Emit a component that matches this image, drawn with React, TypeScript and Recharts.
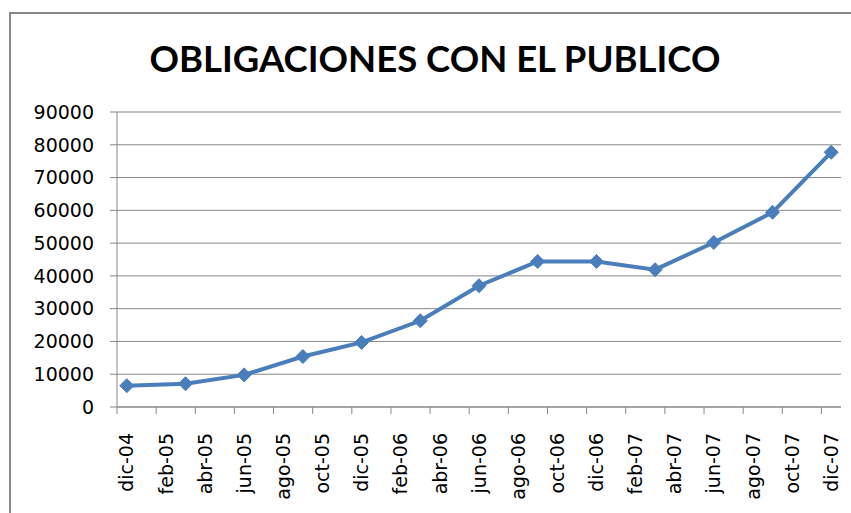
import * as React from "react";
import { LineChart, Line, XAxis, YAxis, CartesianGrid } from "recharts";

// quarterly observations, month offset from dic-04
const periodMonths = [0, 3, 6, 9, 12, 15, 18, 21, 24, 27, 30, 33, 36];
const periodNames = [
  "dic-04", "mar-05", "jun-05", "sep-05", "dic-05", "mar-06", "jun-06",
  "sep-06", "dic-06", "mar-07", "jun-07", "sep-07", "dic-07",
];
const obligaciones = [
  6500, 7100, 9800, 15400, 19700, 26300, 37000, 44400, 44400, 41900, 50200,
  59400, 77700,
];

// axis labels every two months
const tickLabels = [
  "dic-04", "feb-05", "abr-05", "jun-05", "ago-05", "oct-05", "dic-05",
  "feb-06", "abr-06", "jun-06", "ago-06", "oct-06", "dic-06", "feb-07",
  "abr-07", "jun-07", "ago-07", "oct-07", "dic-07",
];
const yTicks = [0, 10000, 20000, 30000, 40000, 50000, 60000, 70000, 80000, 90000];

const data = periodMonths.map((m, i) => ({
  month: m,
  name: periodNames[i],
  value: obligaciones[i],
}));
const xTicks = tickLabels.map((_, i) => i * 2);

const W = 851;
const H = 513;
const margin = { top: 112, right: 10, bottom: 6, left: 37 };
const yAxisWidth = 80;
const plotWidth = W - margin.left - margin.right - yAxisWidth;
const monthPx = plotWidth / 37;

const BLUE = "#4A7EBB";
const GRAY = "#878787";
const FONT = "'DejaVu Sans', sans-serif";

function XTick(props: any) {
  const { x, payload } = props;
  const label = tickLabels[Math.round(payload.value / 2)];
  const axisY = H - margin.bottom - 100;
  const tx = x - monthPx / 2;
  return (
    <g>
      <line x1={tx} y1={axisY} x2={tx} y2={axisY + 7} stroke={GRAY} strokeWidth={1} />
      <text
        x={x}
        y={axisY + 26}
        dy="0.35em"
        transform={`rotate(-90, ${x}, ${axisY + 26})`}
        textAnchor="end"
        fontFamily={FONT}
        fontSize={19}
        fill="#000"
      >
        {label}
      </text>
    </g>
  );
}

function Diamond(props: any) {
  const { cx, cy } = props;
  if (cx == null || cy == null) return null;
  const r = 7;
  return (
    <polygon
      points={`${cx},${cy - r} ${cx + r},${cy} ${cx},${cy + r} ${cx - r},${cy}`}
      fill={BLUE}
      stroke={BLUE}
      strokeWidth={1}
    />
  );
}

export default function App() {
  return (
    <div
      style={{
        position: "absolute",
        left: 0,
        top: 0,
        width: W,
        height: H,
        overflow: "hidden",
        background: "#fff",
      }}
    >
      <div
        style={{
          position: "absolute",
          left: 9,
          top: 12,
          width: 900,
          height: 600,
          border: `2px solid ${GRAY}`,
        }}
      />
      <div
        style={{
          position: "absolute",
          left: 0,
          top: 35,
          width: 870,
          textAlign: "center",
          fontFamily: "Lato, sans-serif",
          fontWeight: 700,
          fontSize: 36.5,
          color: "#000",
          lineHeight: "46px",
        }}
      >
        OBLIGACIONES CON EL PUBLICO
      </div>
      <div style={{ position: "absolute", left: 0, top: 0 }}>
        <LineChart width={W} height={H} data={data} margin={margin}>
          <CartesianGrid vertical={false} stroke={GRAY} strokeWidth={1} />
          <XAxis
            dataKey="month"
            type="number"
            domain={[-0.5, 36.5]}
            ticks={xTicks}
            interval={0}
            height={100}
            axisLine={{ stroke: GRAY }}
            tickLine={false}
            tick={<XTick />}
          />
          <YAxis
            type="number"
            domain={[0, 90000]}
            ticks={yTicks}
            interval={0}
            width={yAxisWidth}
            axisLine={{ stroke: GRAY }}
            tickLine={{ stroke: GRAY }}
            tickSize={7}
            tickMargin={16}
            tick={{ fontFamily: FONT, fontSize: 19, fill: "#000" }}
          />
          <Line
            dataKey="value"
            stroke={BLUE}
            strokeWidth={4}
            dot={<Diamond />}
            activeDot={false}
            isAnimationActive={false}
          />
        </LineChart>
      </div>
    </div>
  );
}
